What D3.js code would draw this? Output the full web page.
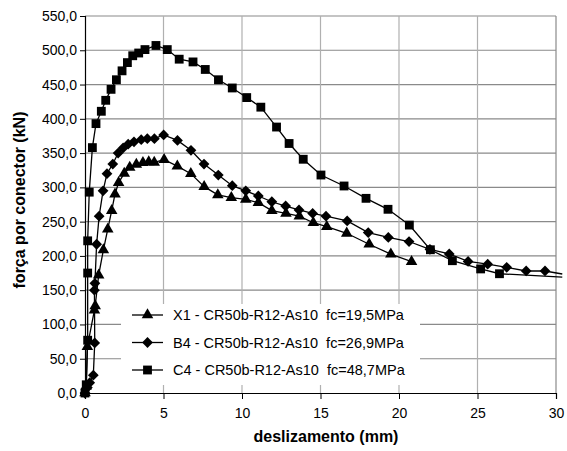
<!DOCTYPE html>
<html>
<head>
<meta charset="utf-8">
<script src="https://cdn.jsdelivr.net/npm/d3@7"></script>
<style>
  body { margin: 0; background: #fff; }
  svg { display: block; font-family: 'Liberation Sans', Arial, sans-serif; }
</style>
</head>
<body>
<svg id="chart" width="567" height="451"></svg>
<script>
// values: slip (mm) and force per connector (kN)
const x1Slip = [0, 0.08, 0.15, 0.6, 0.65, 0.87, 1.17, 1.45, 1.7, 1.91, 2.14, 2.5, 2.85, 3.27, 3.69, 4.06, 4.41, 5.04, 5.88, 6.74, 7.59, 8.46, 9.32, 10.24, 11.04, 11.9, 12.8, 13.65, 14.54, 15.4, 16.67, 18.1, 19.48, 20.8]
const x1Force = [0, 10, 67.5, 121, 127, 172, 208.6, 239, 266, 290, 307, 320.5, 329, 333.6, 336, 337, 336.5, 340.5, 331, 320, 301, 289, 285, 282.6, 277.6, 266, 262, 258, 248.4, 242.6, 233, 217, 202.5, 191.5]

const b4Slip = [0, 0.15, 0.3, 0.53, 0.62, 0.6, 0.63, 0.74, 0.9, 1.15, 1.4, 1.77, 2.11, 2.43, 2.75, 3.12, 3.58, 3.97, 4.42, 5.01, 5.89, 6.75, 7.58, 8.49, 9.38, 10.24, 11.04, 11.9, 12.78, 13.63, 14.5, 15.35, 16.7, 18.04, 19.32, 20.64, 21.97, 23.2, 24.4, 25.65, 26.86, 28.1, 29.3, 30.4]
const b4Force = [0, 8, 15, 26, 73, 150, 160, 217, 258, 295, 320, 334, 350, 357.5, 363, 366.5, 369.5, 371, 371, 376.5, 368.5, 354, 334, 318, 302.4, 295, 287.4, 279, 272.8, 267, 262, 258, 251, 234, 227, 221, 209.6, 202.8, 192, 188, 183.3, 178, 178, 173.6]

const c4Slip = [0, 0.08, 0.17, 0.17, 0.17, 0.27, 0.47, 0.7, 1.04, 1.32, 1.66, 2.0, 2.36, 2.7, 3.04, 3.42, 3.82, 4.52, 5.24, 6.0, 6.88, 7.66, 8.5, 9.38, 10.3, 11.2, 12.2, 13.0, 13.9, 15.03, 16.5, 17.9, 19.3, 20.66, 22.0, 23.4, 25.2, 26.4, 30.4]
const c4Force = [0, 12, 77, 175, 222, 293, 358, 393, 411, 427, 443, 457, 470, 482, 492, 496, 501, 507, 501, 487, 483, 472, 457, 445, 431, 417, 388, 364, 341, 318, 302, 284, 268, 245, 209, 193, 181, 174, 169]

const seriesNames = [
  'X1 - CR50b-R12-As10  fc=19,5MPa',
  'B4 - CR50b-R12-As10  fc=26,9MPa',
  'C4 - CR50b-R12-As10  fc=48,7MPa'
]
const xTicks = [0, 5, 10, 15, 20, 25, 30]
const yTicks = [0, 50, 100, 150, 200, 250, 300, 350, 400, 450, 500, 550]

const plot = { left: 85, right: 556, top: 16, bottom: 393 }

const svg = d3.select('#chart')

const x = d3.scaleLinear().domain([0, 30]).range([plot.left, plot.right])
const y = d3.scaleLinear().domain([0, 550]).range([plot.bottom, plot.top])

const commaFormat = d3.formatLocale({ decimal: ',', thousands: '.', grouping: [3], currency: ['', ''] }).format('.1f')

// diamond = square turned 45 degrees, like the spreadsheet marker
const markers = [
  { type: d3.symbolTriangle, size: 58, rotate: 0 },
  { type: d3.symbolSquare, size: 58, rotate: 45 },
  { type: d3.symbolSquare, size: 78, rotate: 0 }
]

const series = [
  { name: seriesNames[0], points: d3.zip(x1Slip, x1Force), marker: markers[0] },
  { name: seriesNames[1], points: d3.zip(b4Slip, b4Force), marker: markers[1] },
  { name: seriesNames[2], points: d3.zip(c4Slip, c4Force), marker: markers[2] }
]

/**
 * Grid lines, plot frame and the two axes.
 */
function drawAxes () {
  const grid = svg.append('g')

  grid.selectAll('.hgrid')
    .data(yTicks.filter(d => d > 0))
    .enter()
    .append('line')
    .attr('x1', plot.left)
    .attr('x2', plot.right)
    .attr('y1', d => y(d))
    .attr('y2', d => y(d))
    .attr('stroke', '#8a8a8a')
    .attr('stroke-width', 1.2)

  grid.selectAll('.vgrid')
    .data(xTicks.filter(d => d > 0))
    .enter()
    .append('line')
    .attr('x1', d => x(d))
    .attr('x2', d => x(d))
    .attr('y1', plot.top)
    .attr('y2', plot.bottom)
    .attr('stroke', d => d === 30 ? '#8a8a8a' : '#b0b0b0')
    .attr('stroke-width', 1.2)

  const yAxis = svg.append('g')
    .attr('transform', `translate(${plot.left},0)`)
    .call(d3.axisLeft(y).tickValues(yTicks).tickFormat(commaFormat).tickSize(5).tickPadding(3))
  yAxis.select('.domain').attr('stroke', '#000').attr('stroke-width', 1.2)
  yAxis.selectAll('.tick line').attr('stroke', '#000')
  yAxis.selectAll('text').attr('font-size', '14px').attr('fill', '#000').attr('font-family', 'Liberation Sans, Arial')

  const xAxis = svg.append('g')
    .attr('transform', `translate(0,${plot.bottom})`)
    .call(d3.axisBottom(x).tickValues(xTicks).tickFormat(d3.format('d')).tickSize(6).tickPadding(9))
  xAxis.select('.domain').attr('stroke', '#000').attr('stroke-width', 1.2)
  xAxis.selectAll('.tick line').attr('stroke', '#000')
  xAxis.selectAll('text').attr('font-size', '14px').attr('fill', '#000').attr('font-family', 'Liberation Sans, Arial')

  svg.append('text')
    .attr('x', 326)
    .attr('y', 442)
    .attr('text-anchor', 'middle')
    .attr('font-size', '16px')
    .attr('font-weight', 'bold')
    .text('deslizamento (mm)')

  svg.append('text')
    .attr('transform', 'translate(25,200) rotate(-90)')
    .attr('text-anchor', 'middle')
    .attr('font-size', '16px')
    .attr('font-weight', 'bold')
    .text('força por conector (kN)')
}

/**
 * One curve with its markers.
 *
 * @param {object} s - series with points and marker
 */
function drawSeries (s) {
  const line = d3.line()
    .x(d => x(d[0]))
    .y(d => y(d[1]))

  const g = svg.append('g')

  g.append('path')
    .datum(s.points)
    .attr('d', line)
    .attr('fill', 'none')
    .attr('stroke', '#000')
    .attr('stroke-width', 1.3)

  const symbol = d3.symbol().type(s.marker.type).size(s.marker.size)

  // markers past the end of the axis are not shown
  g.selectAll('path.mark')
    .data(s.points.filter(d => d[0] <= 30))
    .enter()
    .append('path')
    .attr('class', 'mark')
    .attr('d', symbol)
    .attr('fill', '#000')
    .attr('transform', d => `translate(${x(d[0])},${y(d[1])}) rotate(${s.marker.rotate})`)
}

/**
 * Legend box in the lower part of the plot.
 */
function drawLegend () {
  const legend = svg.append('g')

  legend.append('rect')
    .attr('x', 121)
    .attr('y', 304)
    .attr('width', 299)
    .attr('height', 81)
    .attr('fill', '#fff')

  legend.selectAll('.legend-item')
    .data(series)
    .enter()
    .append('g')
    .attr('class', 'legend-item')
    .attr('transform', (d, i) => `translate(132, ${315 + i * 27.5})`)
    .each(function (d) {
      const item = d3.select(this)
      item.append('line')
        .attr('x1', 0)
        .attr('x2', 31)
        .attr('stroke', '#000')
        .attr('stroke-width', 1.3)
      item.append('path')
        .attr('d', d3.symbol().type(d.marker.type).size(d.marker.size))
        .attr('transform', `translate(15.5,0) rotate(${d.marker.rotate})`)
        .attr('fill', '#000')
      item.append('text')
        .attr('x', 41)
        .attr('dy', '0.35em')
        .attr('font-size', '14.5px')
        .attr('fill', '#000')
        .attr('xml:space', 'preserve')
        .style('white-space', 'pre')
        .text(d.name)
    })
}

drawAxes()
drawLegend()
series.forEach(drawSeries)
</script>
</body>
</html>
